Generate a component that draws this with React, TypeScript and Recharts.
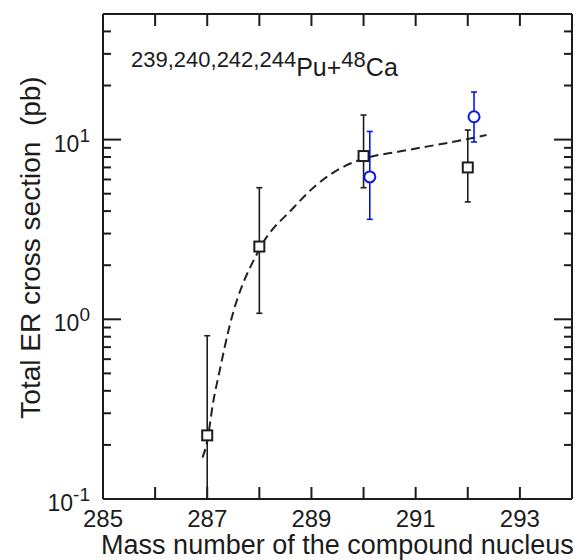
import { ComposedChart, Line, Scatter, ErrorBar, XAxis, YAxis } from 'recharts'

// black squares
const sqMass = [287, 288, 290, 292]
const sqSigma = [0.226, 2.54, 8.1, 7.0]
const sqLow = [0.1, 1.08, 5.4, 4.5]
const sqHigh = [0.81, 5.4, 13.7, 11.3]

// blue circles
const ciMass = [290.12, 292.12]
const ciSigma = [6.2, 13.4]
const ciLow = [3.6, 9.7]
const ciHigh = [11.1, 18.4]

// dashed guide curve
const curveMass = [286.91, 287.0, 287.11, 287.24, 287.43, 288.0, 288.65, 289.1, 289.55, 289.87, 290.12, 290.66, 291.21, 291.75, 292.36]
const curveSigma = [0.17, 0.21, 0.34, 0.52, 0.92, 2.45, 4.16, 5.61, 6.9, 7.6, 8.0, 8.55, 9.14, 9.75, 10.6]

const xTicks = [285, 286, 287, 288, 289, 290, 291, 292, 293, 294]
const yTicks = [
  0.1, 0.2, 0.3, 0.4, 0.5, 0.6, 0.7, 0.8, 0.9,
  1, 2, 3, 4, 5, 6, 7, 8, 9,
  10, 20, 30, 40, 50,
]
const decadeLabel: Record<number, string> = { 0.1: '-1', 1: '0', 10: '1' }

const squares = sqMass.map((x, i) => ({ x, y: sqSigma[i], err: [sqSigma[i] - sqLow[i], sqHigh[i] - sqSigma[i]] }))
const circles = ciMass.map((x, i) => ({ x, y: ciSigma[i], err: [ciSigma[i] - ciLow[i], ciHigh[i] - ciSigma[i]] }))
const curve = curveMass.map((x, i) => ({ x, y: curveSigma[i] }))

const INK = '#1c1c1c'
const BLUE = '#0a14f0'
const FONT = '"Liberation Sans", Arial, sans-serif'

function BottomTick({ x, y, payload }: any) {
  const v = payload.value
  return (
    <g>
      <line x1={x} y1={y} x2={x} y2={y - 12} stroke={INK} strokeWidth={2} />
      {v % 2 === 1 && (
        <text x={x} y={y + 28} textAnchor="middle" fontSize={24} fill={INK} fontFamily={FONT}>
          {v}
        </text>
      )}
    </g>
  )
}

function TopTick({ x, y }: any) {
  return <line x1={x} y1={y} x2={x} y2={y + 12} stroke={INK} strokeWidth={2} />
}

function LeftTick({ x, y, payload }: any) {
  const exp = decadeLabel[payload.value]
  const len = exp !== undefined ? 18 : 8
  return (
    <g>
      <line x1={x} y1={y} x2={x + len} y2={y} stroke={INK} strokeWidth={2} />
      {exp !== undefined && (
        <text x={x - 13} y={y + 12} textAnchor="end" fontSize={23} fill={INK} fontFamily={FONT}>
          10
          <tspan dy={-10} fontSize={19}>
            {exp}
          </tspan>
        </text>
      )}
    </g>
  )
}

function RightTick({ x, y, payload }: any) {
  const len = decadeLabel[payload.value] !== undefined ? 18 : 8
  return <line x1={x} y1={y} x2={x - len} y2={y} stroke={INK} strokeWidth={2} />
}

const Square = ({ cx, cy }: any) => (
  <rect x={cx - 5} y={cy - 5} width={10} height={10} fill="#fff" stroke={INK} strokeWidth={2} />
)
const Ring = ({ cx, cy }: any) => <circle cx={cx} cy={cy} r={5.5} fill="#fff" stroke={BLUE} strokeWidth={2} />

const XTitle = ({ viewBox }: any) => (
  <text
    x={viewBox.x + viewBox.width / 2}
    y={viewBox.y + 55}
    textAnchor="middle"
    fontSize={27}
    fill={INK}
    fontFamily={FONT}
  >
    Mass number of the compound nucleus
  </text>
)

const YTitle = ({ viewBox }: any) => (
  <text
    transform={`translate(${viewBox.x + 40}, ${viewBox.y + viewBox.height / 2 - 9}) rotate(-90)`}
    textAnchor="middle"
    fontSize={28}
    fill={INK}
    fontFamily={FONT}
    style={{ whiteSpace: 'pre' }}
  >
    {'Total ER cross section  (pb)'}
  </text>
)

export default function App() {
  return (
    <div style={{ position: 'absolute', left: 0, top: 0, background: '#fff' }}>
      <ComposedChart width={587} height={560} margin={{ top: 13, right: 14, bottom: 0, left: 0 }}>
        <XAxis
          xAxisId={0}
          dataKey="x"
          type="number"
          domain={[285, 294]}
          ticks={xTicks}
          interval={0}
          allowDataOverflow
          height={61}
          tickSize={0}
          tickMargin={0}
          tick={<BottomTick />}
          stroke={INK}
          strokeWidth={2}
          label={<XTitle />}
        />
        <XAxis
          xAxisId="top"
          orientation="top"
          dataKey="x"
          type="number"
          domain={[285, 294]}
          ticks={xTicks}
          interval={0}
          allowDataOverflow
          height={1}
          tickSize={0}
          tickMargin={0}
          tick={<TopTick />}
          stroke={INK}
          strokeWidth={2}
        />
        <YAxis
          yAxisId={0}
          dataKey="y"
          type="number"
          scale="log"
          domain={[0.1, 50]}
          ticks={yTicks}
          interval={0}
          allowDataOverflow
          width={103}
          tickSize={0}
          tickMargin={0}
          tick={<LeftTick />}
          stroke={INK}
          strokeWidth={2}
          label={<YTitle />}
        />
        <YAxis
          yAxisId="right"
          orientation="right"
          dataKey="y"
          type="number"
          scale="log"
          domain={[0.1, 50]}
          ticks={yTicks}
          interval={0}
          allowDataOverflow
          width={1}
          tickSize={0}
          tickMargin={0}
          tick={<RightTick />}
          stroke={INK}
          strokeWidth={2}
        />
        <Line
          data={curve}
          dataKey="y"
          type="monotone"
          stroke="#222"
          strokeWidth={2}
          strokeDasharray="9 5"
          dot={false}
          isAnimationActive={false}
        />
        <Scatter data={squares} dataKey="y" shape={<Square />} isAnimationActive={false}>
          <ErrorBar dataKey="err" direction="y" width={3} stroke={INK} strokeWidth={1.6} />
        </Scatter>
        <Scatter data={circles} dataKey="y" shape={<Ring />} isAnimationActive={false}>
          <ErrorBar dataKey="err" direction="y" width={3} stroke={BLUE} strokeWidth={1.6} />
        </Scatter>
        <text x={131} y={76} fontSize={25} fill={INK} fontFamily={FONT}>
          <tspan fontSize={22} dy={-9}>
            239,240,242,244
          </tspan>
          <tspan dy={9}>Pu+</tspan>
          <tspan fontSize={22} dy={-9}>
            48
          </tspan>
          <tspan dy={9}>Ca</tspan>
        </text>
      </ComposedChart>
    </div>
  )
}
